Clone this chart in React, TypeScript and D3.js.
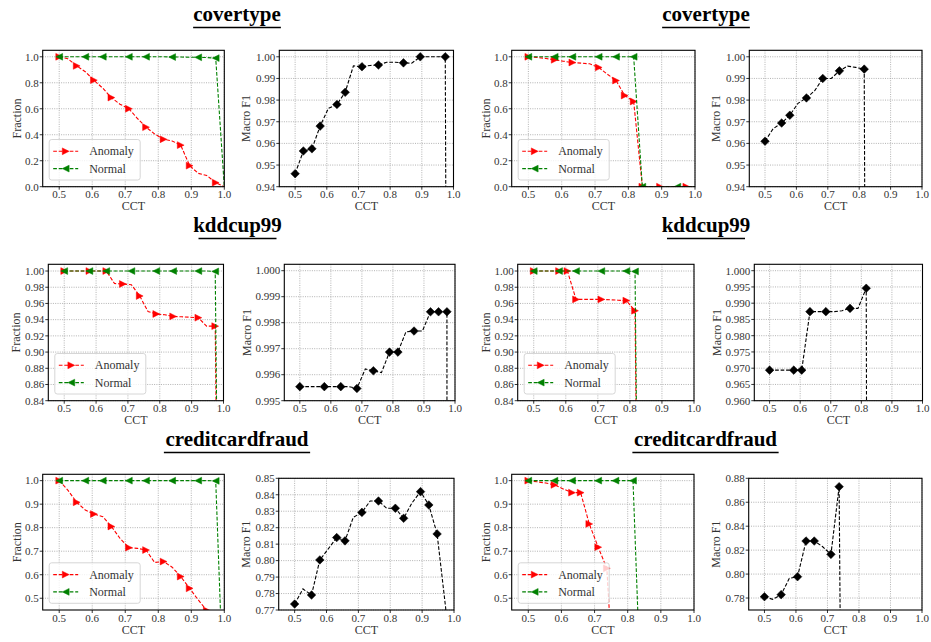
import React from "react";
import * as d3 from "d3";

// ---------- data ----------
const CCT = [0.5, 0.526, 0.553, 0.579, 0.605, 0.632, 0.658, 0.684, 0.711, 0.737, 0.763, 0.789, 0.816, 0.842, 0.868, 0.895, 0.921, 0.947, 0.974, 1.0];
const X_TICKS = [0.5, 0.6, 0.7, 0.8, 0.9, 1.0];
const DATASETS = ["covertype", "kddcup99", "creditcardfraud"];
const SERIES_NAMES = ["Anomaly", "Normal"];

// covertype
const covL_anomaly = [1.0, 0.985, 0.93, 0.885, 0.82, 0.758, 0.686, 0.635, 0.6, 0.525, 0.458, 0.406, 0.365, 0.352, 0.32, 0.162, 0.103, 0.086, 0.031, 0.0];
const covL_normal = [1, 1, 1, 1, 1, 1, 1, 1, 1, 1, 1, 1, 1, 0.998, 0.998, 0.997, 0.996, 0.994, 0.99, 0.0];
const covL_f1 = [0.946, 0.9565, 0.9575, 0.968, 0.9762, 0.978, 0.9836, 0.9958, 0.9954, 0.996, 0.9962, 0.9975, 0.9975, 0.9972, 0.997, 1.0, 1.0, 1.0, 1.0, 0.0];
const covR_anomaly = [1.0, 0.995, 0.987, 0.977, 0.966, 0.956, 0.951, 0.946, 0.918, 0.866, 0.817, 0.702, 0.656, 0, 0, 0, 0, 0, 0, 0];
const covR_normal = [1, 1, 1, 1, 1, 1, 1, 1, 1, 1, 1, 1, 1.0, 0, 0, 0, 0, 0, 0, 0];
const covR_f1 = [0.961, 0.9668, 0.9694, 0.973, 0.9785, 0.981, 0.9843, 0.99, 0.99, 0.9935, 0.9957, 0.9951, 0.9943, 0, 0, 0, 0, 0, 0, 0];

// kddcup99
const kddL_anomaly = [1, 1, 1, 1, 1, 1, 0.9845, 0.984, 0.983, 0.9692, 0.95, 0.947, 0.946, 0.944, 0.9435, 0.943, 0.9424, 0.932, 0.932, 0];
const kddL_normal = [1, 1, 1, 1, 1, 1, 1, 1, 1, 1, 1, 1, 1, 1, 1, 1, 1, 1, 0.9995, 0];
const kddL_f1 = [0.99554, 0.99554, 0.99554, 0.99554, 0.99554, 0.99554, 0.99554, 0.99547, 0.99622, 0.99615, 0.99608, 0.99687, 0.99687, 0.99765, 0.99768, 0.99768, 0.99842, 0.99842, 0.99842, 0];
const kddR_anomaly = [1, 1, 1, 1, 1, 0.965, 0.965, 0.965, 0.965, 0.9645, 0.964, 0.9635, 0.951, 0, 0, 0, 0, 0, 0, 0];
const kddR_normal = [1, 1, 1, 1, 1, 1, 1, 1, 1, 1, 1, 1, 0.9995, 0, 0, 0, 0, 0, 0, 0];
const kddR_f1 = [0.9694, 0.9694, 0.9694, 0.9694, 0.9694, 0.9874, 0.9874, 0.9874, 0.9874, 0.9877, 0.9884, 0.9884, 0.9946, 0, 0, 0, 0, 0, 0, 0];

// creditcardfraud
const ccL_anomaly = [1.0, 0.96, 0.908, 0.875, 0.858, 0.847, 0.805, 0.755, 0.715, 0.712, 0.705, 0.652, 0.656, 0.632, 0.592, 0.542, 0.493, 0.448, 0.35, 0];
const ccL_normal = [1, 1, 1, 1, 1, 1, 1, 1, 1, 1, 1, 1, 1, 1, 1, 1, 1, 1, 0.999, 0];
const ccL_f1 = [0.7736, 0.7828, 0.7791, 0.8004, 0.807, 0.814, 0.812, 0.8263, 0.8293, 0.8362, 0.8362, 0.8318, 0.8318, 0.8257, 0.835, 0.8419, 0.8338, 0.8162, 0.771, 0];
const ccR_anomaly = [1.0, 0.995, 0.99, 0.982, 0.965, 0.949, 0.949, 0.816, 0.717, 0.627, 0, 0, 0, 0, 0, 0, 0, 0, 0, 0];
const ccR_normal = [1, 1, 1, 1, 1, 1, 1, 1, 1, 1, 1, 1, 1, 0, 0, 0, 0, 0, 0, 0];
const ccR_f1 = [0.7811, 0.7789, 0.7828, 0.7965, 0.7978, 0.8276, 0.8276, 0.823, 0.8165, 0.873, 0, 0, 0, 0, 0, 0, 0, 0, 0, 0];

// marker indices (points that carry a marker)
const MK = {
  covL_anomaly: [0, 2, 4, 6, 8, 10, 12, 14, 15, 18],
  covL_normal: [0, 3, 5, 8, 10, 13, 16, 18],
  covL_f1: [0, 1, 2, 3, 5, 6, 8, 10, 13, 15, 18],
  covR_anomaly: [0, 3, 5, 8, 10, 11, 12, 13, 15, 18],
  covR_normal: [0, 3, 5, 8, 10, 12, 13, 17],
  covR_f1: [0, 2, 3, 5, 7, 9, 12],
  kddL_anomaly: [0, 3, 5, 7, 9, 11, 13, 16, 18],
  kddL_normal: [0, 3, 5, 8, 11, 13, 16, 18],
  kddL_f1: [0, 3, 5, 7, 9, 11, 12, 14, 16, 17, 18],
  kddR_anomaly: [0, 3, 4, 5, 8, 11, 12],
  kddR_normal: [0, 3, 5, 8, 11, 12],
  kddR_f1: [0, 3, 4, 5, 7, 10, 12],
  ccL_anomaly: [0, 2, 4, 6, 8, 10, 12, 14, 15, 17],
  ccL_normal: [0, 3, 5, 8, 10, 13, 16, 18],
  ccL_f1: [0, 2, 3, 5, 6, 8, 10, 12, 13, 15, 16, 17],
  ccR_anomaly: [0, 3, 5, 6, 7, 8, 9],
  ccR_normal: [0, 3, 5, 8, 10, 12],
  ccR_f1: [0, 2, 4, 5, 6, 8, 9],
};

// y tick labels
const TICKS_FRAC_A = [0.0, 0.2, 0.4, 0.6, 0.8, 1.0];
const TICKS_F1_COV = [0.94, 0.95, 0.96, 0.97, 0.98, 0.99, 1.0];
const TICKS_FRAC_KDD = [0.84, 0.86, 0.88, 0.9, 0.92, 0.94, 0.96, 0.98, 1.0];
const TICKS_F1_KDD_L = [0.995, 0.996, 0.997, 0.998, 0.999, 1.0];
const TICKS_F1_KDD_R = [0.96, 0.965, 0.97, 0.975, 0.98, 0.985, 0.99, 0.995, 1.0];
const TICKS_FRAC_CC = [0.5, 0.6, 0.7, 0.8, 0.9, 1.0];
const TICKS_F1_CC_L = [0.77, 0.78, 0.79, 0.8, 0.81, 0.82, 0.83, 0.84, 0.85];
const TICKS_F1_CC_R = [0.78, 0.8, 0.82, 0.84, 0.86, 0.88];

// ---------- styling ----------
const RED = "#ff0000";
const GREEN = "#008000";
const BLACK = "#000000";
const FONT = "'Liberation Serif', 'Times New Roman', serif";

type Shape = "right" | "left" | "diamond";
interface Series { values: number[]; marks: number[]; color: string; shape: Shape; }
interface PanelSpec {
  box: [number, number, number, number];
  yDomain: [number, number];
  yTicks: number[];
  yFmt: string;
  yLabel: string;
  yLabelOff: number;
  series: Series[];
  legend: boolean;
}

const frac = (a: number[], ma: number[], n: number[], mn: number[]): Series[] => [
  { values: a, marks: ma, color: RED, shape: "right" },
  { values: n, marks: mn, color: GREEN, shape: "left" },
];
const f1 = (v: number[], m: number[]): Series[] => [{ values: v, marks: m, color: BLACK, shape: "diamond" }];

const PANELS: PanelSpec[] = [
  { box: [42.7, 224.3, 50.3, 186.7], yDomain: [0, 1.05], yTicks: TICKS_FRAC_A, yFmt: ".1f", yLabel: "Fraction", yLabelOff: 26, series: frac(covL_anomaly, MK.covL_anomaly, covL_normal, MK.covL_normal), legend: true },
  { box: [279.3, 453.5, 50.3, 186.7], yDomain: [0.94, 1.003], yTicks: TICKS_F1_COV, yFmt: ".2f", yLabel: "Macro F1", yLabelOff: 33, series: f1(covL_f1, MK.covL_f1), legend: false },
  { box: [511.7, 695, 50.3, 186.7], yDomain: [0, 1.05], yTicks: TICKS_FRAC_A, yFmt: ".1f", yLabel: "Fraction", yLabelOff: 26, series: frac(covR_anomaly, MK.covR_anomaly, covR_normal, MK.covR_normal), legend: true },
  { box: [749.3, 922, 50.3, 186.7], yDomain: [0.94, 1.003], yTicks: TICKS_F1_COV, yFmt: ".2f", yLabel: "Macro F1", yLabelOff: 33, series: f1(covR_f1, MK.covR_f1), legend: false },

  { box: [48.3, 223.5, 264.3, 400.7], yDomain: [0.84, 1.0083], yTicks: TICKS_FRAC_KDD, yFmt: ".2f", yLabel: "Fraction", yLabelOff: 32, series: frac(kddL_anomaly, MK.kddL_anomaly, kddL_normal, MK.kddL_normal), legend: true },
  { box: [284.3, 455, 264.3, 400.7], yDomain: [0.995, 1.000246], yTicks: TICKS_F1_KDD_L, yFmt: ".3f", yLabel: "Macro F1", yLabelOff: 37.6, series: f1(kddL_f1, MK.kddL_f1), legend: false },
  { box: [517.7, 694, 264.3, 400.7], yDomain: [0.84, 1.0083], yTicks: TICKS_FRAC_KDD, yFmt: ".2f", yLabel: "Fraction", yLabelOff: 32, series: frac(kddR_anomaly, MK.kddR_anomaly, kddR_normal, MK.kddR_normal), legend: true },
  { box: [754.3, 922.5, 264.3, 400.7], yDomain: [0.96, 1.00197], yTicks: TICKS_F1_KDD_R, yFmt: ".3f", yLabel: "Macro F1", yLabelOff: 37.6, series: f1(kddR_f1, MK.kddR_f1), legend: false },

  { box: [42.7, 224.3, 474.3, 610], yDomain: [0.45, 1.027], yTicks: TICKS_FRAC_CC, yFmt: ".1f", yLabel: "Fraction", yLabelOff: 26, series: frac(ccL_anomaly, MK.ccL_anomaly, ccL_normal, MK.ccL_normal), legend: true },
  { box: [278.7, 454, 478.3, 610], yDomain: [0.77, 0.85], yTicks: TICKS_F1_CC_L, yFmt: ".2f", yLabel: "Macro F1", yLabelOff: 33, series: f1(ccL_f1, MK.ccL_f1), legend: false },
  { box: [511.7, 694, 474.3, 610], yDomain: [0.45, 1.027], yTicks: TICKS_FRAC_CC, yFmt: ".1f", yLabel: "Fraction", yLabelOff: 26, series: frac(ccR_anomaly, MK.ccR_anomaly, ccR_normal, MK.ccR_normal), legend: true },
  { box: [748.7, 922, 478.3, 610], yDomain: [0.77, 0.88], yTicks: TICKS_F1_CC_R, yFmt: ".2f", yLabel: "Macro F1", yLabelOff: 33, series: f1(ccR_f1, MK.ccR_f1), legend: false },
];

const TITLES = [
  { text: DATASETS[0], cx: 237, y: 21 },
  { text: DATASETS[0], cx: 706, y: 21 },
  { text: DATASETS[1], cx: 237.5, y: 232 },
  { text: DATASETS[1], cx: 706, y: 232 },
  { text: DATASETS[2], cx: 237, y: 446 },
  { text: DATASETS[2], cx: 705.5, y: 446 },
];

function markerPath(shape: Shape): string {
  const r = 3.4;
  if (shape === "right") return `M${r},0L${-r},${-r}L${-r},${r}Z`;
  if (shape === "left") return `M${-r},0L${r},${-r}L${r},${r}Z`;
  const s = 4.3;
  return `M0,${-s}L${s},0L0,${s}L${-s},0Z`;
}

const DASH = "3.7,1.8";

function Panel({ p, id }: { p: PanelSpec; id: string }) {
  const [x0, x1, y0, y1] = p.box;
  const x = d3.scaleLinear().domain([0.45, 1.0]).range([x0, x1]);
  const y = d3.scaleLinear().domain(p.yDomain).range([y1, y0]);
  const line = d3.line<number>().x((_, i) => x(CCT[i])).y((v) => y(v));
  const fmt = d3.format(p.yFmt);
  const lx = x0 + 6.5;
  const lh = 40.5;
  const ly = y1 - 6.7 - lh;
  return (
    <g>
      <defs>
        <clipPath id={id}>
          <rect x={x0} y={y0} width={x1 - x0} height={y1 - y0} />
        </clipPath>
      </defs>
      {/* grid */}
      <g stroke="#a0a0a0" strokeWidth={0.8} strokeDasharray="1,1.3">
        {X_TICKS.map((t) => (
          <line key={"gx" + t} x1={x(t)} x2={x(t)} y1={y0} y2={y1} />
        ))}
        {p.yTicks.map((t) => (
          <line key={"gy" + t} x1={x0} x2={x1} y1={y(t)} y2={y(t)} />
        ))}
      </g>
      {/* series */}
      <g clipPath={`url(#${id})`}>
        {p.series.map((s, si) => (
          <g key={si}>
            <path d={line(s.values) || ""} fill="none" stroke={s.color} strokeWidth={1.1} strokeDasharray={DASH} />
            {s.marks.map((i) => (
              <path key={i} transform={`translate(${x(CCT[i])},${y(s.values[i])})`} d={markerPath(s.shape)} fill={s.color} stroke={s.color} strokeWidth={0.5} />
            ))}
          </g>
        ))}
      </g>
      {/* frame */}
      <rect x={x0} y={y0} width={x1 - x0} height={y1 - y0} fill="none" stroke="#000" strokeWidth={1.1} />
      {/* ticks */}
      <g stroke="#000" strokeWidth={0.8}>
        {X_TICKS.map((t) => (
          <line key={"tx" + t} x1={x(t)} x2={x(t)} y1={y1} y2={y1 + 3} />
        ))}
        {p.yTicks.map((t) => (
          <line key={"ty" + t} x1={x0 - 3} x2={x0} y1={y(t)} y2={y(t)} />
        ))}
      </g>
      <g fontFamily={FONT} fontSize={11} fill="#333">
        {X_TICKS.map((t) => (
          <text key={"lx" + t} x={x(t)} y={y1 + 11.5} textAnchor="middle">
            {d3.format(".1f")(t)}
          </text>
        ))}
        {p.yTicks.map((t) => (
          <text key={"ly" + t} x={x0 - 4} y={y(t) + 3.8} textAnchor="end">
            {fmt(t)}
          </text>
        ))}
      </g>
      <text x={(x0 + x1) / 2} y={y1 + 23.5} textAnchor="middle" fontFamily={FONT} fontSize={12} fill="#333">
        CCT
      </text>
      <text
        transform={`translate(${x0 - p.yLabelOff + 4},${(y0 + y1) / 2}) rotate(-90)`}
        textAnchor="middle"
        fontFamily={FONT}
        fontSize={12}
        fill="#333"
      >
        {p.yLabel}
      </text>
      {p.legend && (
        <g>
          <rect x={lx} y={ly} width={91} height={lh} rx={2.5} fill="#fff" fillOpacity={0.8} stroke="#cccccc" strokeWidth={0.8} />
          {p.series.map((s, si) => {
            const ry = ly + 11.8 + si * 17.3;
            return (
              <g key={"lg" + si}>
                <line x1={lx + 4} x2={lx + 29} y1={ry} y2={ry} stroke={s.color} strokeWidth={1.1} strokeDasharray={DASH} />
                <path transform={`translate(${lx + 16.5},${ry})`} d={markerPath(s.shape)} fill={s.color} stroke={s.color} strokeWidth={0.5} />
                <text x={lx + 40} y={ry + 4} fontFamily={FONT} fontSize={12} fill="#333">
                  {SERIES_NAMES[si]}
                </text>
              </g>
            );
          })}
        </g>
      )}
    </g>
  );
}

export default function App() {
  return (
    <svg
      width={931}
      height={642}
      viewBox="0 0 931 642"
      style={{ position: "absolute", left: 0, top: 0, background: "#fff" }}
    >
      <rect x={0} y={0} width={931} height={642} fill="#fff" />
      {TITLES.map((t, i) => (
        <g key={"t" + i}>
          <text x={t.cx} y={t.y} textAnchor="middle" fontFamily={FONT} fontWeight="bold" fontSize={21} fill="#000">
            {t.text}
          </text>
        </g>
      ))}
      {TITLES.map((t, i) => {
        const w = t.text.length * 9.75;
        return <line key={"u" + i} x1={t.cx - w / 2} x2={t.cx + w / 2} y1={t.y + 6.5} y2={t.y + 6.5} stroke="#000" strokeWidth={1.3} />;
      })}
      {PANELS.map((p, i) => (
        <Panel key={i} p={p} id={"clip" + i} />
      ))}
    </svg>
  );
}
